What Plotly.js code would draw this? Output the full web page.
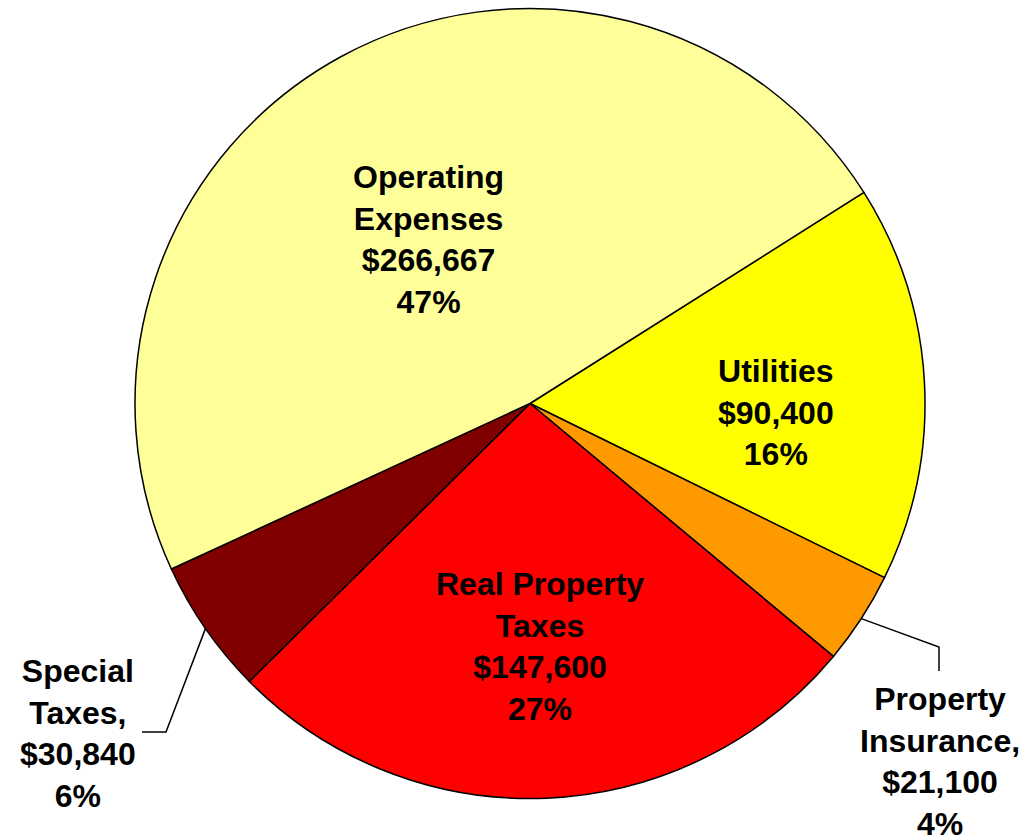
<!DOCTYPE html>
<html>
<head>
<meta charset="utf-8">
<script src="https://cdn.plot.ly/plotly-3.0.1.min.js"></script>
<style>html,body{margin:0;padding:0;background:#fff;}#chart{width:1026px;height:836px;}</style>
</head>
<body>
<div id="chart"></div>
<script>
// ---- data ----
const categories = ['Utilities', 'Property Insurance', 'Real Property Taxes', 'Special Taxes', 'Operating Expenses'];
const labelNames = ['Utilities', 'Property<br>Insurance,', 'Real Property<br>Taxes', 'Special<br>Taxes,', 'Operating<br>Expenses'];
const values = [90400, 21100, 147600, 30840, 266667];
const percentLabels = ['16%', '4%', '27%', '6%', '47%'];
const colors = ['#FFFF00', '#FF9900', '#FF0000', '#800000', '#FFFF99'];

// ---- layout helpers ----
const W = 1026, H = 836;
const cx = 530, cy = 403.5, R = 395;
const rotationDeg = 57.7; // start of first slice, clockwise from 12 o'clock
const px = x => x / W;
const py = y => 1 - y / H;

function fmt(v) { return '$' + v.toLocaleString('en-US'); }

// slice mid angles (clockwise from top, degrees) computed from values
const total = values.reduce((a, b) => a + b, 0);
const midAngles = [];
let acc = 0;
values.forEach(v => { midAngles.push(rotationDeg + (acc + v / 2) / total * 360); acc += v; });
function edgePoint(i) {
  const a = midAngles[i] * Math.PI / 180;
  return [cx + R * Math.sin(a), cy - R * Math.cos(a)];
}

// label placement (pixels): center x, center y
const labelPos = [
  [776, 412],
  [940, 761],
  [540, 646],
  [78, 733],
  [428, 240]
];

const font = {family: 'Liberation Sans, Arial, sans-serif', size: 32, color: '#000', weight: 'bold'};

const annotations = categories.map((c, i) => ({
  xref: 'paper', yref: 'paper',
  x: px(labelPos[i][0]), y: py(labelPos[i][1]),
  xanchor: 'center', yanchor: 'middle',
  text: labelNames[i] + '<br>' + fmt(values[i]) + '<br>' + percentLabels[i],
  showarrow: false, align: 'center', font: font
}));

function pathFrom(points) {
  return points.map((p, k) => (k === 0 ? 'M' : 'L') + px(p[0]).toFixed(5) + ',' + py(p[1]).toFixed(5)).join(' ');
}
const sp = edgePoint(3), ip = edgePoint(1);
const shapes = [
  {type: 'path', xref: 'paper', yref: 'paper', path: pathFrom([sp, [166, 732], [142, 732]]), line: {color: '#000', width: 1.5}},
  {type: 'path', xref: 'paper', yref: 'paper', path: pathFrom([ip, [939, 647], [939, 671]]), line: {color: '#000', width: 1.5}}
];

const trace = {
  type: 'pie',
  labels: categories,
  values: values,
  sort: false,
  direction: 'clockwise',
  rotation: rotationDeg,
  textinfo: 'none',
  hoverinfo: 'label+value+percent',
  marker: {colors: colors, line: {color: '#000', width: 1.5}},
  domain: {x: [px(cx - R), px(cx + R)], y: [py(cy + R), py(cy - R)]},
  showlegend: false
};

const layout = {
  width: W, height: H,
  margin: {l: 0, r: 0, t: 0, b: 0},
  paper_bgcolor: '#fff',
  showlegend: false,
  annotations: annotations,
  shapes: shapes
};

Plotly.newPlot('chart', [trace], layout, {displayModeBar: false, staticPlot: true});
</script>
</body>
</html>
